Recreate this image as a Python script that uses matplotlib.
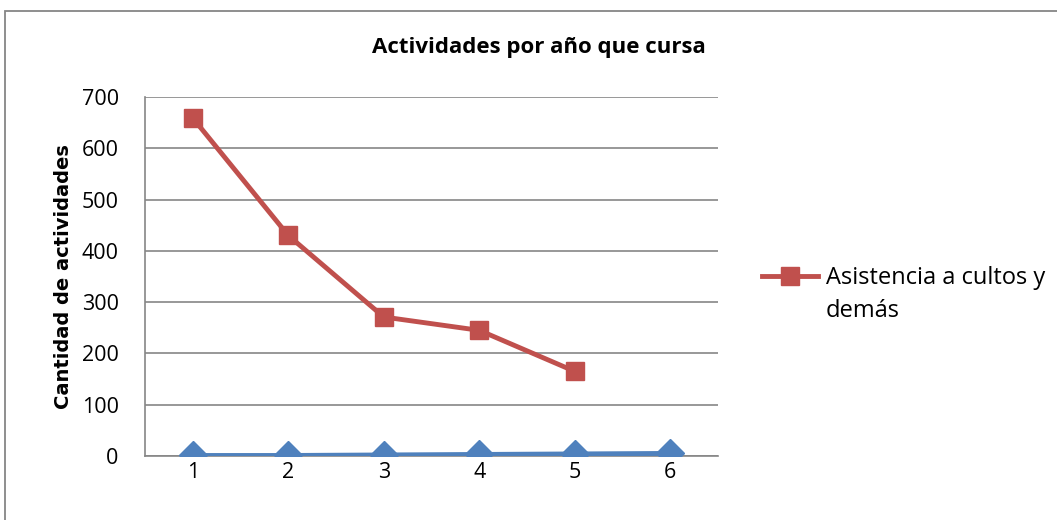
import numpy as np
import matplotlib.pyplot as plt
from matplotlib.patches import Rectangle

# datos
anios = [1, 2, 3, 4, 5, 6]
asistencia = [659, 430, 271, 245, 165]
otra_serie = [1, 1, 2, 3, 4, 5]
yticks = [0, 100, 200, 300, 400, 500, 600, 700]

rojo = '#C0504D'
azul = '#4F81BD'
gris = '#868686'

plt.rcParams['font.family'] = ['Open Sans', 'DejaVu Sans']

fig = plt.figure(figsize=(10.57, 5.2), dpi=100)
ax = fig.add_axes([0.1372, 0.1231, 0.5421, 0.6904])

ax.plot(anios, otra_serie, color=azul, lw=3.5, marker='D', ms=14,
        mec=azul, mfc=azul, zorder=3)
ax.plot(anios[:len(asistencia)], asistencia, color=rojo, lw=3.5, marker='s',
        ms=13, mec=rojo, mfc=rojo, zorder=4,
        label='Asistencia a cultos y')

ax.set_xlim(0.5, 6.5)
ax.set_ylim(0, 700)
ax.set_yticks(yticks)
ax.set_xticks(anios)
ax.tick_params(length=0, labelsize=15.5)
ax.tick_params(axis='y', pad=19)
ax.tick_params(axis='x', pad=4)
ax.grid(axis='y', color=gris, lw=1.2)
ax.set_axisbelow(True)
for s in ['top', 'right']:
    ax.spines[s].set_visible(False)
for s in ['left', 'bottom']:
    ax.spines[s].set_color(gris)
    ax.spines[s].set_linewidth(1.2)

ax.set_ylabel('Cantidad de actividades', family='DejaVu Sans',
              fontweight='bold', fontsize=14, labelpad=6)

fig.text(0.51, 0.908, 'Actividades por año que cursa', ha='center',
         va='center', fontsize=16, fontweight='bold')

# leyenda: la etiqueta ocupa dos lineas, el simbolo va con la primera
fig.legend(loc='center left', bbox_to_anchor=(762 / 1057, 1 - 278 / 520),
           frameon=False, fontsize=17, handlelength=2.37, handletextpad=0.34,
           borderaxespad=0, borderpad=0)
fig.text(826 / 1057, 1 - 311 / 520, 'demás', fontsize=17,
         ha='left', va='center')

# borde del area del grafico
fig.patches.append(Rectangle((5 / 1057, -0.05), 1.2, 1 - 11 / 520 + 0.05,
                             transform=fig.transFigure, fill=False,
                             ec=gris, lw=1.3))

fig.savefig('out.png', dpi=100)
